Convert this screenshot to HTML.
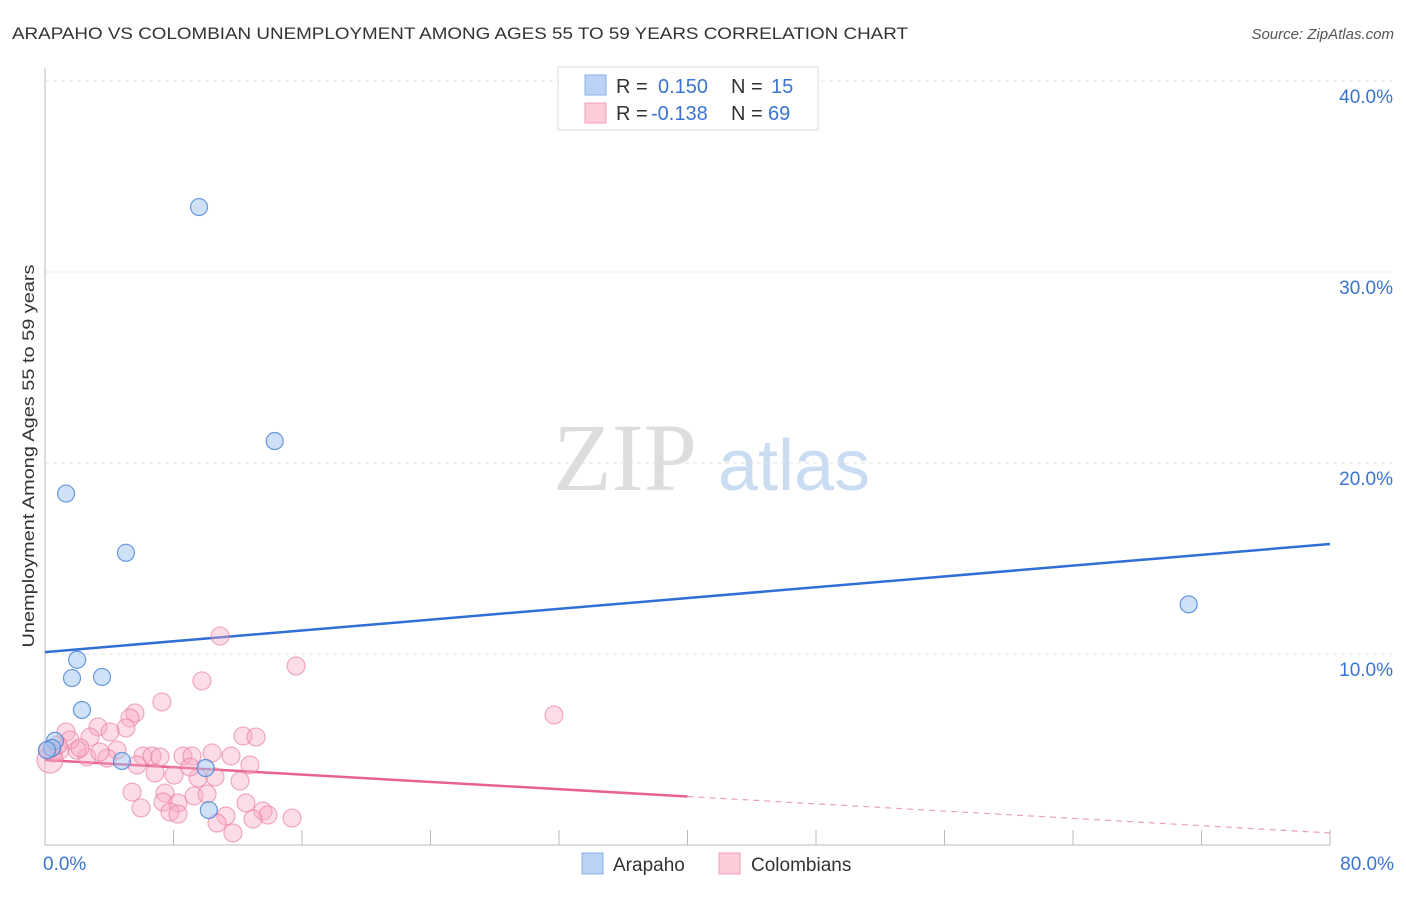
<!DOCTYPE html>
<html><head><meta charset="utf-8"><style>
body{margin:0;background:#fff;font-family:"Liberation Sans",sans-serif;}
svg text{font-family:"Liberation Sans",sans-serif;}
</style></head><body>
<svg id="chart" width="1406" height="892">
<text x="12" y="39" font-size="17" fill="#333" textLength="896" lengthAdjust="spacingAndGlyphs">ARAPAHO VS COLOMBIAN UNEMPLOYMENT AMONG AGES 55 TO 59 YEARS CORRELATION CHART</text>
<text x="1394" y="39" font-size="15" fill="#555" font-style="italic" text-anchor="end">Source: ZipAtlas.com</text>
<text x="0" y="0" transform="translate(34,456) rotate(-90)" font-size="17" fill="#333" text-anchor="middle" textLength="383" lengthAdjust="spacingAndGlyphs">Unemployment Among Ages 55 to 59 years</text>
<g><text x="553" y="490" font-size="96" fill="#ddd" style="font-family:'Liberation Serif',serif">ZIP</text><text x="718" y="490" font-size="72" fill="#c9dcf2">atlas</text></g>
<g id="grid"></g><g id="axes"></g><g id="lines"></g><g id="pts"></g>
<g>
<rect x="558" y="67" width="260" height="63" fill="#fff" stroke="#ddd"/>
<rect x="585" y="75" width="21" height="20" fill="#b9d2f5" stroke="#8ab0e6"/>
<rect x="585" y="103" width="21" height="20" fill="#fcccd9" stroke="#f0a0b8"/>
<text x="616" y="93" font-size="20" fill="#333">R = <tspan fill="#3a74d0" x="658">0.150</tspan><tspan x="731" fill="#333">N = </tspan><tspan fill="#3a74d0" x="771">15</tspan></text>
<text x="616" y="120" font-size="20" fill="#333">R = <tspan fill="#3a74d0" x="651">-0.138</tspan><tspan x="731" fill="#333">N = </tspan><tspan fill="#3a74d0" x="768">69</tspan></text>
</g>
<g>
<rect x="582" y="853" width="21" height="21" fill="#b9d2f5" stroke="#8ab0e6"/>
<text x="613" y="871" font-size="19" fill="#333">Arapaho</text>
<rect x="719" y="853" width="21" height="21" fill="#fcccd9" stroke="#f0a0b8"/>
<text x="751" y="871" font-size="19" fill="#333">Colombians</text>
</g>
</svg>
<script>
const yTicks=[10,20,30,40];
const yTickLabels=["10.0%","20.0%","30.0%","40.0%"];
const xTickLabels=["0.0%","80.0%"];
const blueX=[9.59,14.3,1.31,5.04,2.0,1.68,3.55,2.3,71.2,0.62,0.44,4.79,10.0,10.2,0.12];
const blueY=[33.4,21.15,18.4,15.3,9.7,8.74,8.8,7.07,12.6,5.45,5.08,4.4,4.03,1.83,4.97];
const pinkX=[15.63,9.77,7.28,5.60,5.29,5.04,3.30,4.05,1.31,12.33,13.14,10.40,11.58,12.76,8.59,9.15,6.10,6.66,7.16,10.58,12.14,8.03,6.85,9.53,9.03,5.73,4.48,3.86,2.61,1.99,1.56,2.80,0.93,0.50,0.31,5.42,5.98,7.47,7.35,8.28,7.78,8.28,9.28,10.09,12.51,13.57,13.88,12.95,11.27,10.71,11.70,15.38,31.69,10.90,0.19,0.81,2.18,3.42];
const pinkY=[9.37,8.59,7.49,6.91,6.65,6.13,6.18,5.92,5.92,5.71,5.65,4.82,4.66,4.19,4.66,4.66,4.66,4.66,4.61,3.56,3.35,3.66,3.77,3.51,4.08,4.19,4.97,4.55,4.61,4.97,5.50,5.65,4.97,4.82,4.45,2.77,1.94,2.72,2.25,2.20,1.73,1.62,2.57,2.67,2.20,1.78,1.57,1.36,1.52,1.15,0.63,1.41,6.81,10.94,4.97,5.24,5.08,4.87];
const blueLine=[10.1,15.76];
const pinkLine=[4.45,0.63];
const pinkSolidEnd=40;
const NS="http://www.w3.org/2000/svg";
const X0=45,X1=1330,Y0=845,PPY=19.1;
const sx=v=>X0+(X1-X0)*v/80, sy=v=>Y0-v*PPY;
function mk(p,tag,at){const e=document.createElementNS(NS,tag);for(const k in at)e.setAttribute(k,at[k]);document.getElementById(p).appendChild(e);return e;}
yTicks.forEach((t,i)=>{
 const l=mk('grid','line',{x1:X0,x2:1392,y1:sy(t),y2:sy(t),stroke:'#e2e2e2','stroke-dasharray':'4,4'});
 
 
 const tx=mk('axes','text',{x:1393,y:sy(t)+22,'font-size':19,fill:'#3a74d0','text-anchor':'end'});
 tx.textContent=yTickLabels[i];
 
 
});
mk('axes','line',{x1:X0,x2:X0,y1:68,y2:Y0,stroke:'#bbb'});
mk('axes','line',{x1:X0,x2:X1,y1:Y0,y2:Y0,stroke:'#bbb'});
for(let i=1;i<=10;i++){mk('axes','line',{x1:sx(i*8),x2:sx(i*8),y1:830,y2:Y0,stroke:'#bbb'});}
[[0,X0-2,'start'],[1,1394,'end']].forEach(([i,x,a])=>{const t=mk('axes','text',{x:x,y:870,'font-size':19,fill:'#3a74d0','text-anchor':a});t.textContent=xTickLabels[i];
 
 });
const bl=mk('lines','line',{x1:sx(0),y1:sy(blueLine[0]),x2:sx(80),y2:sy(blueLine[1]),stroke:'#2f6fd6','stroke-width':2.5});


const pm=pinkLine[0]+(pinkLine[1]-pinkLine[0])*pinkSolidEnd/80;
const pl=mk('lines','line',{x1:sx(0),y1:sy(pinkLine[0]),x2:sx(pinkSolidEnd),y2:sy(pm),stroke:'#e8628e','stroke-width':2.5});


const pd=mk('lines','line',{x1:sx(pinkSolidEnd),y1:sy(pm),x2:sx(80),y2:sy(pinkLine[1]),stroke:'#e8a0b8','stroke-width':1.2,'stroke-dasharray':'6,5'});


pinkX.forEach((x,i)=>{const c=mk('pts','circle',{cx:sx(x),cy:sy(pinkY[i]),r:i==34?13:9,fill:'rgba(247,170,195,0.4)',stroke:'rgba(232,120,155,0.6)','stroke-width':1.2});
 
 });
blueX.forEach((x,i)=>{const c=mk('pts','circle',{cx:sx(x),cy:sy(blueY[i]),r:8.5,fill:'rgba(160,195,240,0.5)',stroke:'rgba(70,130,215,0.8)','stroke-width':1.2});
 
 });
</script>
</body></html>
